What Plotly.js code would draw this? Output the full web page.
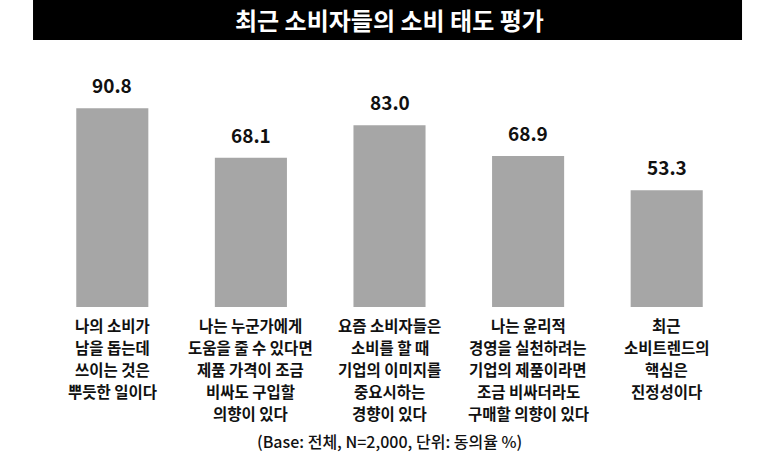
<!DOCTYPE html>
<html>
<head>
<meta charset="utf-8">
<script src="https://cdn.plot.ly/plotly-3.0.1.min.js"></script>
<style>
  html, body { margin: 0; padding: 0; background: #fff; }
  #chart { width: 773px; height: 463px; }
</style>
</head>
<body>
<div id="chart"></div>
<script>
// ─── data ───────────────────────────────────────────────
var categories = [
  '나의 소비가<br>남을 돕는데<br>쓰이는 것은<br>뿌듯한 일이다',
  '나는 누군가에게<br>도움을 줄 수 있다면<br>제품 가격이 조금<br>비싸도 구입할<br>의향이 있다',
  '요즘 소비자들은<br>소비를 할 때<br>기업의 이미지를<br>중요시하는<br>경향이 있다',
  '나는 윤리적<br>경영을 실천하려는<br>기업의 제품이라면<br>조금 비싸더라도<br>구매할 의향이 있다',
  '최근<br>소비트렌드의<br>핵심은<br>진정성이다'
];
var agreeRate = [90.8, 68.1, 83.0, 68.9, 53.3];
var chartTitle = '최근 소비자들의 소비 태도 평가';
var footNote = '(Base: 전체, N=2,000, 단위: 동의율 %)';

var font = '"Noto Sans CJK KR", "Noto Sans", sans-serif';

var trace = {
  type: 'bar',
  x: categories,
  y: agreeRate,
  marker: { color: '#a6a6a6', line: { width: 0 } },
  hoverinfo: 'x+y'
};

// value labels sit a bit higher than plotly's 'outside' text
var valueNotes = categories.map(function (c, i) {
  return {
    x: c, y: agreeRate[i], xref: 'x', yref: 'y',
    text: agreeRate[i].toFixed(1),
    showarrow: false, xanchor: 'center', yanchor: 'bottom', yshift: 8,
    font: { family: font, size: 19, color: '#111', weight: 700 }
  };
});

// category labels: one annotation per line, wider line spacing than ticks allow
var labelNotes = [];
categories.forEach(function (c) {
  c.split('<br>').forEach(function (line, j) {
    labelNotes.push({
      x: c, y: 0, xref: 'x', yref: 'y',
      text: line,
      showarrow: false, xanchor: 'center', yanchor: 'middle', yshift: -18 - 22 * j,
      font: { family: font, size: 15.5, color: '#111', weight: 600 }
    });
  });
});

var layout = {
  width: 773, height: 463,
  paper_bgcolor: '#fff', plot_bgcolor: '#fff',
  margin: { l: 43, r: 37, t: 88, b: 156 },
  bargap: 0.48,
  showlegend: false,
  font: { family: font, color: '#111' },
  xaxis: {
    showgrid: false, zeroline: false, showline: false, ticks: '',
    showticklabels: false,
    fixedrange: true
  },
  yaxis: {
    range: [0, 100], visible: false, showgrid: false, zeroline: false,
    fixedrange: true
  },
  shapes: [{
    type: 'rect', xref: 'paper', yref: 'paper',
    x0: -0.0144, x1: 1.0087, y0: 1.219, y1: 1.45,
    fillcolor: '#000', line: { width: 0 }, layer: 'below'
  }],
  annotations: valueNotes.concat(labelNotes, [{
    text: chartTitle, xref: 'paper', yref: 'paper',
    x: 0.5, y: 1.312, xanchor: 'center', yanchor: 'middle',
    showarrow: false,
    font: { family: font, size: 24, color: '#fff', weight: 700 }
  }, {
    text: footNote, xref: 'paper', yref: 'paper',
    x: 0.5, y: -0.61, xanchor: 'center', yanchor: 'middle',
    showarrow: false,
    font: { family: font, size: 16, color: '#111', weight: 500 }
  }])
};

Plotly.newPlot('chart', [trace], layout, { displayModeBar: false, staticPlot: true });
</script>
</body>
</html>
